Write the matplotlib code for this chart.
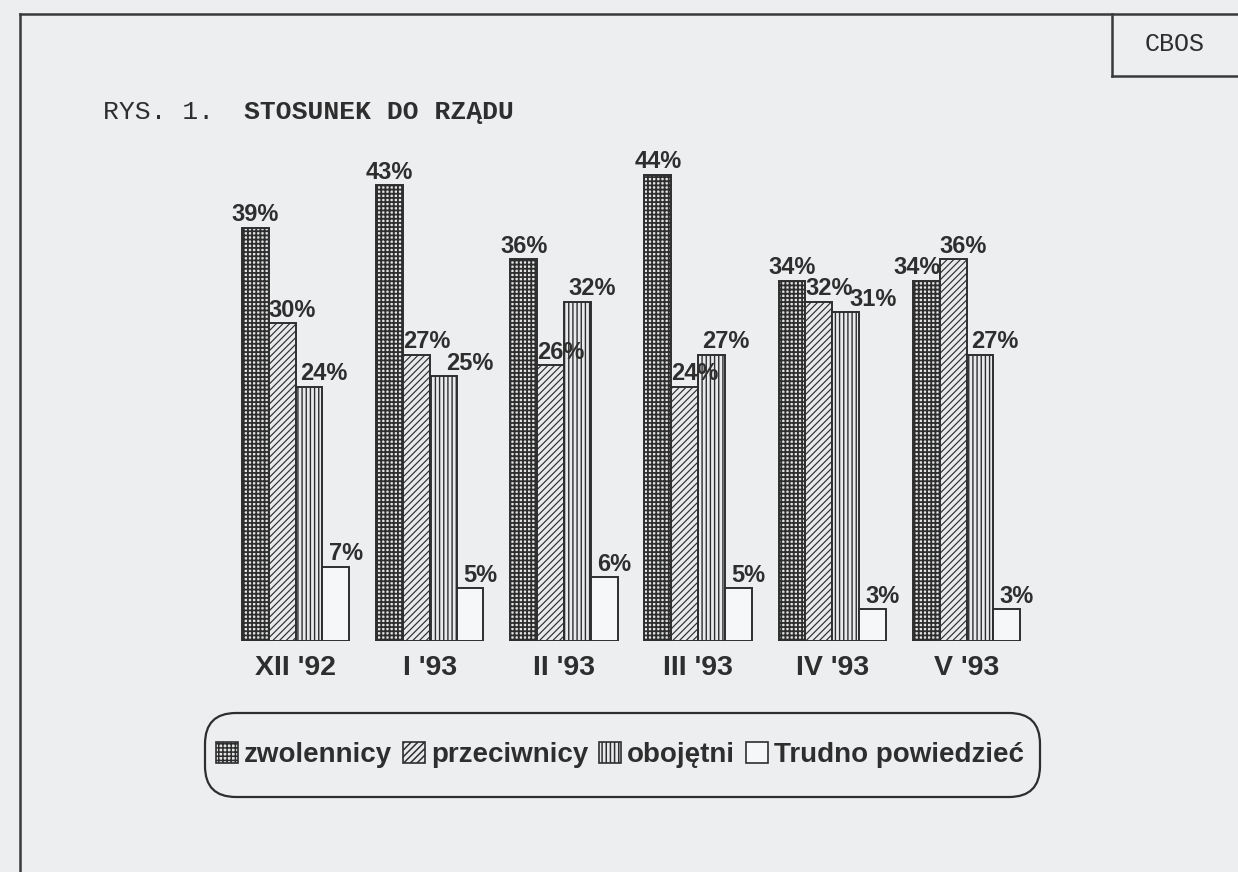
import matplotlib
matplotlib.use('Agg')
import matplotlib.pyplot as plt
from matplotlib.patches import Patch, FancyBboxPatch
from matplotlib.lines import Line2D

# ---- data ----
categories = ["XII '92", "I '93", "II '93", "III '93", "IV '93", "V '93"]
zwolennicy = [39, 43, 36, 44, 34, 34]
przeciwnicy = [30, 27, 26, 24, 32, 36]
obojetni = [24, 25, 32, 27, 31, 27]
trudno = [7, 5, 6, 5, 3, 3]
series_names = ['zwolennicy', 'przeciwnicy', 'obojętni', 'Trudno powiedzieć']
title_plain = "RYS. 1."
title_bold = "STOSUNEK DO RZĄDU"
corner_label = "CBOS"

# ---- layout / style ----
W, H = 1238, 872
BG = '#eceef0'
INK = '#2e2e2e'

plt.rcParams['font.family'] = ['Liberation Sans', 'DejaVu Sans']
plt.rcParams['hatch.linewidth'] = 1.1

fig = plt.figure(figsize=(W / 100, H / 100), dpi=100, facecolor=BG)


def fx(px):
    return px / W


def fy(py):
    return 1 - py / H


ax_l, ax_r, ax_b, ax_t = 180, 1080, 641, 150
ax = fig.add_axes([fx(ax_l), fy(ax_b), (ax_r - ax_l) / W, (ax_b - ax_t) / H])
ax.set_facecolor('none')
px_per_group = 134.2
first_center = 295.5
px_per_pct = 10.6
ax.set_xlim(-(first_center - ax_l) / px_per_group, (ax_r - first_center) / px_per_group)
ax.set_ylim(0, (ax_b - ax_t) / px_per_pct)
for s in ax.spines.values():
    s.set_visible(False)
ax.set_yticks([])

bw = 0.2
series = [zwolennicy, przeciwnicy, obojetni, trudno]
styles = [
    dict(face='#e2e4e6', hatch='++++', hlw=1.3),
    dict(face='#e8eaec', hatch='/////', hlw=0.85),
    dict(face='#e8eaec', hatch='||||', hlw=1.0),
    dict(face='#f6f7f8', hatch=None, hlw=1.0),
]
handles = []
for i, (vals, st) in enumerate(zip(series, styles)):
    xs = [k + (i - 1.5) * bw for k in range(len(categories))]
    with plt.rc_context({'hatch.linewidth': st['hlw']}):
        ax.bar(xs, vals, width=bw, facecolor=st['face'], edgecolor=INK,
               hatch=st['hatch'], linewidth=1.4, zorder=2)
        handles.append(Patch(facecolor=st['face'], edgecolor=INK,
                             hatch=st['hatch'], linewidth=1.2))

# value labels
lab_kw = dict(fontsize=17, fontweight='bold', color=INK, va='baseline',
              textcoords='offset points', zorder=3)
dy = 4.6
for k in range(len(categories)):
    for i, vals in enumerate(series):
        xc = k + (i - 1.5) * bw
        v = vals[k]
        txt = f"{v}%"
        if i == 0:
            if przeciwnicy[k] > v:
                ax.annotate(txt, (xc + bw / 2, v), xytext=(1, dy), ha='right', **lab_kw)
            else:
                ax.annotate(txt, (xc, v), xytext=(0, dy), ha='center', **lab_kw)
        elif i == 1:
            ax.annotate(txt, (xc - bw / 2, v), xytext=(0, dy), ha='left', **lab_kw)
        elif i == 2:
            # push right when the neighbouring label sits at nearly the same height
            close = 0 <= przeciwnicy[k] - v <= 3
            ax.annotate(txt, (xc - bw / 2, v), xytext=(12 if close else 3, dy),
                        ha='left', **lab_kw)
        else:
            ax.annotate(txt, (xc - bw / 2, v), xytext=(4.5, dy), ha='left', **lab_kw)

ax.set_xticks(range(len(categories)))
ax.set_xticklabels(categories, fontsize=20.5, fontweight='bold', color=INK)
ax.tick_params(axis='x', length=0, pad=10)

# legend
leg = fig.legend(handles, series_names, loc='center',
                 bbox_to_anchor=(fx(620), fy(755)), ncol=4, frameon=False,
                 prop=dict(size=20, weight='bold'), handlelength=0.8,
                 handleheight=0.8, handletextpad=0.2, columnspacing=0.4,
                 labelcolor=INK)
# rounded box around legend
box_l, box_r, box_t, box_b = 205, 1040, 713, 797
fig.add_artist(FancyBboxPatch((fx(box_l), fy(box_b)),
                              (box_r - box_l) / W, (box_b - box_t) / H,
                              boxstyle='round,pad=0,rounding_size=0.025',
                              transform=fig.transFigure, facecolor='none',
                              edgecolor=INK, linewidth=1.6,
                              mutation_aspect=W / H))

# page frame
line_kw = dict(color='#3a3a3a', linewidth=1.8, transform=fig.transFigure)
fig.add_artist(Line2D([fx(20), fx(W)], [fy(14), fy(14)], **line_kw))
fig.add_artist(Line2D([fx(20), fx(20)], [fy(14), fy(H)], **line_kw))
fig.add_artist(Line2D([fx(1112), fx(1112)], [fy(14), fy(76)], **line_kw))
fig.add_artist(Line2D([fx(1112), fx(W)], [fy(76), fy(76)], **line_kw))

mono = ['Liberation Mono', 'DejaVu Sans Mono']
fig.text(fx(1175), fy(44), corner_label, family=mono, fontsize=18,
         color=INK, ha='center', va='center')
fig.text(fx(103), fy(112), title_plain, family=mono, fontsize=19,
         color=INK, ha='left', va='center')
fig.text(fx(244), fy(112), title_bold, family=mono, fontsize=19,
         fontweight='bold', color=INK, ha='left', va='center')

fig.savefig('out.png', dpi=100, facecolor=BG)
